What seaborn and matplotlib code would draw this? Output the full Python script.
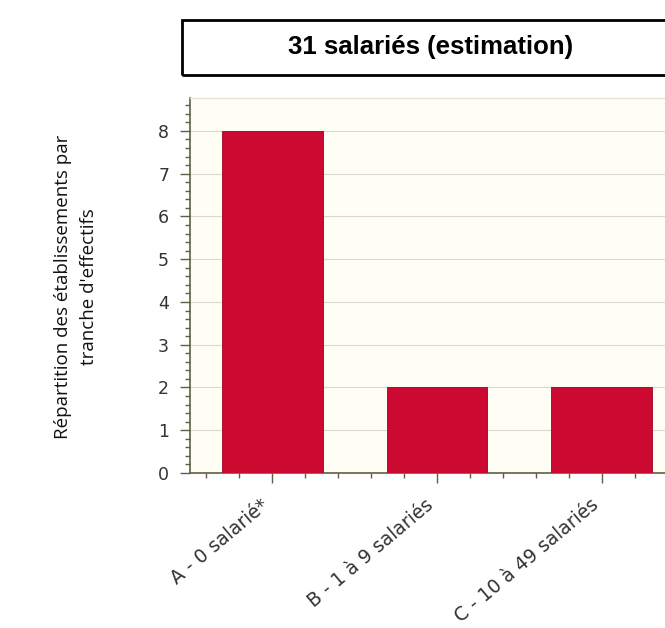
import matplotlib.pyplot as plt
import matplotlib.transforms as mtransforms
import pandas as pd
import seaborn as sns
from matplotlib.patches import Rectangle
from matplotlib.ticker import MultipleLocator

categories = ['A - 0 salarié*', 'B - 1 à 9 salariés', 'C - 10 à 49 salariés']
values = [8, 2, 2]
title_text = '31 salariés (estimation)'
ylabel_text = "Répartition des établissements par\ntranche d'effectifs"

bar_color = '#CC0A31'
axis_color = '#5f5f45'
bg_plot = '#FFFEF4'

sns.set_theme(style='white', rc={
    'axes.facecolor': bg_plot,
    'figure.facecolor': 'white',
})

df = pd.DataFrame({'tranche': categories, 'n': values})

fig = plt.figure(figsize=(6.65, 6.28), dpi=100)
ax = fig.add_axes([190 / 665, 155 / 628, 494 / 665, 375 / 628])

sns.barplot(df, x='tranche', y='n', color=bar_color, width=0.61,
            saturation=1, edgecolor='#a00020', linewidth=0.6, ax=ax, zorder=3)

ax.set_xlim(-0.5, 2.5)
ax.set_ylim(0, 8.77)
ax.yaxis.set_major_locator(MultipleLocator(1))
ax.yaxis.set_minor_locator(MultipleLocator(0.2))
ax.xaxis.set_minor_locator(MultipleLocator(0.2))
ax.grid(axis='y', which='major', color='#d9d9cf', linewidth=0.8, zorder=0)
ax.set_axisbelow(True)

for side in ['left', 'bottom']:
    ax.spines[side].set_color(axis_color)
    ax.spines[side].set_linewidth(1.2)
ax.spines['top'].set_color('#e2e2d6')
ax.spines['top'].set_linewidth(1.0)
ax.spines['right'].set_visible(False)

ax.tick_params(axis='both', which='major', direction='out', length=7,
               width=1, color=axis_color, labelcolor='#333333')
ax.tick_params(axis='both', which='minor', direction='out', length=3.5,
               width=1, color=axis_color)
ax.tick_params(axis='y', which='both', left=True, labelsize=12.5, pad=8)
ax.tick_params(axis='x', which='both', bottom=True, labelsize=13.5, pad=9)
ax.set_yticks(range(0, 9))

# rotated labels end just left of their tick
shift = mtransforms.ScaledTranslation(-0.12, 0, fig.dpi_scale_trans)
for lbl in ax.get_xticklabels():
    lbl.set_rotation(40)
    lbl.set_ha('right')
    lbl.set_va('top')
    lbl.set_rotation_mode('anchor')
    lbl.set_transform(lbl.get_transform() + shift)
ax.set_xlabel('')
ax.set_ylabel('')

# title box
fig.patches.append(Rectangle((182 / 665, 553 / 628), 0.8, 55 / 628,
                             transform=fig.transFigure, fill=False,
                             edgecolor='black', linewidth=2))
fig.text(431 / 665, 581 / 628, title_text, ha='center', va='center',
         fontsize=18.5, fontweight='bold', family='Liberation Sans',
         color='black')

fig.text(76 / 665, 341 / 628, ylabel_text, rotation=90, ha='center',
         va='center', fontsize=13.5, family='Open Sans',
         linespacing=1.55, color='#111111')

fig.savefig('out.png', dpi=100)
